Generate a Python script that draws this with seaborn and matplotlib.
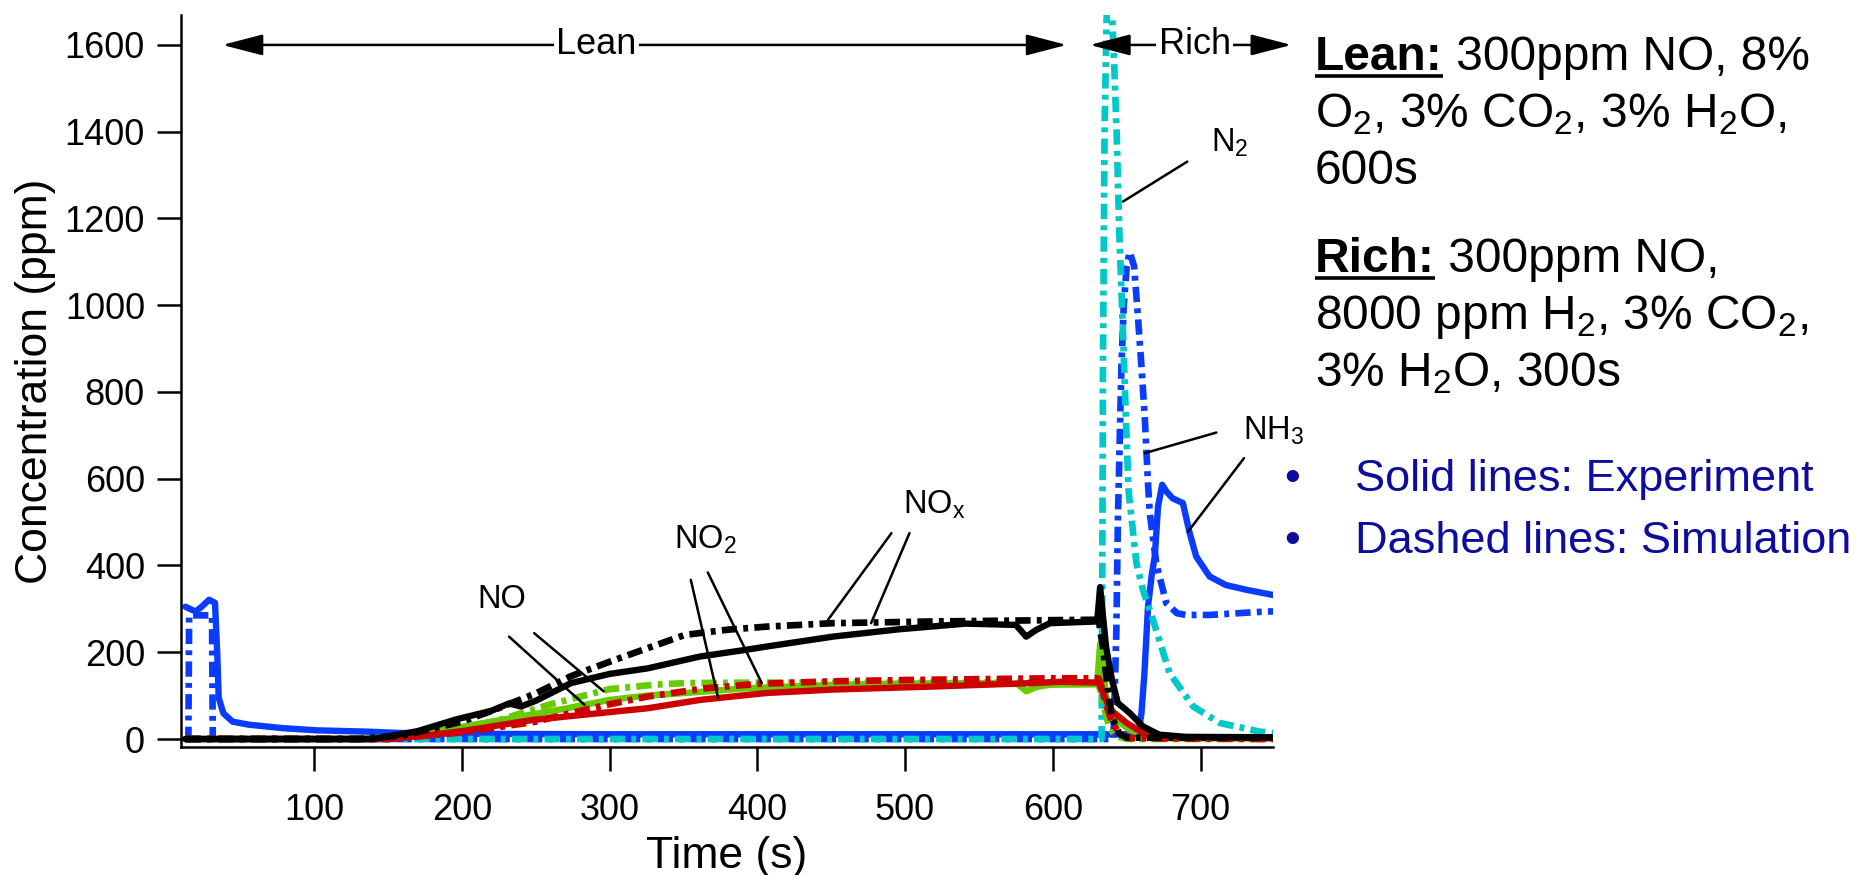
import matplotlib
matplotlib.use("Agg")
import matplotlib.pyplot as plt
from matplotlib.lines import Line2D
import seaborn as sns

# ---------------- data ----------------
t_nh3_exp = [13, 16, 20, 24, 29, 33, 34.5, 35.5, 38.6, 41, 45, 56, 79, 102, 136, 158, 200, 300, 400,
             500, 600, 655, 658, 660, 662, 664.4, 667, 669, 671.2, 674, 677, 681, 688, 692.6, 697,
             706, 717, 731, 749]
nh3_exp = [305, 300, 294, 305, 321, 314, 200, 95, 60, 52, 40, 33, 25, 20, 17, 14, 12, 11, 11,
           11, 11, 11, 15, 60, 152, 305, 380, 421, 536, 586, 570, 555, 544, 475, 421,
           375, 355, 344, 332]

t_nh3_sim = [13, 15, 15.5, 31, 31.5, 641, 643, 644, 646.4, 648, 650, 652, 655, 657.6, 660, 662.2,
             664.4, 665.6, 670, 676.8, 684, 690, 706, 744.5, 749]
nh3_sim = [0, 0, 285, 285, 0, 0, 250, 500, 858, 1000, 1090, 1123, 1090, 974, 858, 743,
           590, 521, 405, 313, 290, 286, 286, 294, 294]

t_n2_sim = [13, 633, 633.5, 634, 635, 636.5, 638.5, 640, 641.6, 643.2, 645, 647.5, 649.8, 651.3,
            656.6, 661, 667.8, 679, 695, 713, 740, 749]
n2_sim = [0, 0, 400, 900, 1400, 1680, 1720, 1680, 1550, 1396, 1166, 935, 705, 570,
          405, 344, 275, 152, 75, 37, 17, 14]

t_no_exp = [13, 130, 160, 200, 240, 270, 300, 325, 351, 393, 451, 500, 564, 576, 582, 589, 598,
            630, 632, 636, 643, 652, 665, 680, 749]
no_exp = [0, 0, 6, 28, 52, 70, 90, 100, 106, 117, 125, 128, 129, 127, 110, 120, 125,
          126, 220, 98, 44, 21, 5, 2, 2]

t_no_sim = [13, 140, 170, 200, 222, 260, 300, 330, 351, 400, 500, 600, 631, 634, 638, 642, 650, 749]
no_sim = [0, 0, 8, 24, 40, 80, 115, 125, 129, 130, 130, 130, 130, 80, 30, 8, 0, 0]

t_no2_exp = [13, 150, 170, 200, 248, 300, 326, 361, 406, 451, 519, 587, 605, 631, 634, 639, 650,
             661, 672, 749]
no2_exp = [0, 0, 6, 18, 44, 62, 71, 90, 106, 114, 121, 129, 132, 130, 106, 67, 37,
           14, 4, 2]

t_no2_sim = [13, 150, 200, 250, 274, 300, 326, 365, 400, 450, 500, 600, 631, 633, 636, 640, 645,
             652, 749]
no2_sim = [0, 0, 15, 40, 60, 80, 98, 117, 127, 133, 136, 140, 140, 120, 80, 40, 12,
           2, 0]

t_nox_exp = [13, 140, 170, 196, 220, 232, 240, 250, 274, 300, 326, 361, 393, 406, 451, 496, 541,
             575, 582, 589, 598, 630, 632, 636, 640, 644, 652, 661, 672, 690, 749]
nox_exp = [0, 0, 18, 45, 65, 82, 75, 88, 129, 150, 163, 190, 206, 213, 236, 253, 266,
           263, 236, 252, 267, 271, 350, 213, 137, 83, 60, 29, 10, 5, 4]

t_nox_sim = [13, 130, 160, 200, 222, 250, 274, 300, 313, 351, 380, 406, 451, 519, 600, 631, 634,
             637, 640, 645, 650, 749]
nox_sim = [0, 0, 8, 40, 67, 105, 145, 178, 194, 240, 252, 259, 267, 271, 274, 275, 210,
           120, 50, 12, 3, 3]

x_ticks = [100, 200, 300, 400, 500, 600, 700]
y_ticks = [0, 200, 400, 600, 800, 1000, 1200, 1400, 1600]

# species labels: text, x, y (baseline-left), leader lines
species_labels = [
    ("NO", 210.4, 301.8, [((232, 236), (283, 79)), ((249, 244), (296, 110))]),
    ("NO$_2$", 343.7, 440, [((355, 367), (373.5, 94.5)), ((366.5, 384), (403, 129))]),
    ("NO$_\\mathregular{x}$", 498.6, 520.7, [((490.8, 474.6), (447.9, 275)), ((503, 474.6), (477, 267))]),
    ("N$_2$", 707.3, 1354, [((691, 1331), (647.5, 1239))]),
    ("NH$_3$", 728.7, 689.6, [((710.7, 706.5), (662.2, 659)), ((729.4, 647.5), (691.5, 478))]),
]

# ---------------- style ----------------
sns.set_theme(style="ticks")
plt.rcParams['font.family'] = ['Liberation Sans', 'DejaVu Sans']
plt.rcParams['mathtext.fontset'] = 'custom'
plt.rcParams['mathtext.rm'] = 'Liberation Sans'
plt.rcParams['mathtext.it'] = 'Liberation Sans:italic'
plt.rcParams['mathtext.bf'] = 'Liberation Sans:bold'
plt.rcParams['lines.scale_dashes'] = False
plt.rcParams['axes.unicode_minus'] = False

W, H = 1860, 875
fig = plt.figure(figsize=(W / 100, H / 100), dpi=100)
fig.patch.set_facecolor('white')
ax = fig.add_axes([181 / W, 1 - 747 / H, (1273 - 181) / W, (747 - 15) / H])
ax.set_facecolor('white')

BLUE = '#0a3cff'
CYAN = '#00c8c8'
GREEN = '#66cc00'
RED = '#cc0000'
BLACK = '#000000'
SOLID = '-'
DASHDOT = (0, (11, 4.5, 3.5, 4.5))

series = [
    (t_nh3_exp, nh3_exp, BLUE, SOLID),
    (t_nh3_sim, nh3_sim, BLUE, DASHDOT),
    (t_n2_sim, n2_sim, CYAN, DASHDOT),
    (t_no_exp, no_exp, GREEN, SOLID),
    (t_no_sim, no_sim, GREEN, DASHDOT),
    (t_no2_exp, no2_exp, RED, SOLID),
    (t_no2_sim, no2_sim, RED, DASHDOT),
    (t_nox_exp, nox_exp, BLACK, SOLID),
    (t_nox_sim, nox_sim, BLACK, DASHDOT),
]
for t, c, col, ls in series:
    lw = 4.6 if ls == SOLID else 4.8
    sns.lineplot(x=t, y=c, ax=ax, color=col, linewidth=lw, linestyle=ls,
                 estimator=None, sort=False, errorbar=None, legend=False,
                 solid_capstyle='round', solid_joinstyle='round')

ax.set_xlim(10, 749)
ax.set_ylim(-18.4, 1669)
ax.set_xticks(x_ticks)
ax.set_yticks(y_ticks)
for s in ['top', 'right']:
    ax.spines[s].set_visible(False)
for s in ['left', 'bottom']:
    ax.spines[s].set_linewidth(1.8)
    ax.spines[s].set_color('black')
ax.tick_params(axis='both', direction='out', length=17, width=1.8, color='black',
               labelsize=26, labelcolor='black')
ax.tick_params(axis='x', pad=16)
ax.tick_params(axis='y', pad=9)
ax.set_xlabel('Time (s)', fontsize=32, labelpad=6, color='black')
ax.set_ylabel('Concentration (ppm)', fontsize=32, labelpad=6, color='black')

# species labels and leader lines
for text, x, y, leaders in species_labels:
    ax.text(x, y, text, fontsize=23.5, ha='left', va='baseline', color='black', zorder=6)
    for (x0, y0), (x1, y1) in leaders:
        ax.annotate('', xy=(x1, y1), xytext=(x0, y0), annotation_clip=False,
                    arrowprops=dict(arrowstyle='-', lw=1.8, color='black',
                                    shrinkA=0, shrinkB=0), zorder=6)

# Lean / Rich phase arrows
phases = [("Lean", 291, 38, 609.4), ("Rich", 696, 625, 761.5)]
for name, xc, xl, xr in phases:
    for tip in (xl, xr):
        ax.annotate('', xy=(tip, 1600), xytext=(xc, 1600), annotation_clip=False,
                    arrowprops=dict(arrowstyle='-|>,head_length=25,head_width=6.5',
                                    mutation_scale=1, lw=1.8, color='black',
                                    shrinkA=0, shrinkB=0), zorder=7)
    ax.text(xc, 1600, name, fontsize=26, ha='center', va='center', color='black', zorder=8,
            clip_on=False, bbox=dict(fc='white', ec='none', pad=1.5))

# ---------------- right-hand text block ----------------
FS = 34.5
x0 = 1315 / W
blocks = [
    ("Lean:", [" 300ppm NO, 8%", "O$_2$, 3% CO$_2$, 3% H$_2$O,", "600s"], [70, 127, 184]),
    ("Rich:", [" 300ppm NO,", "8000 ppm H$_2$, 3% CO$_2$,", "3% H$_2$O, 300s"], [272, 329, 386]),
]
heads = []
for head, lines, bases in blocks:
    th = fig.text(x0, 1 - bases[0] / H, head, fontsize=FS, fontweight='bold',
                  ha='left', va='baseline', color='black')
    heads.append((th, lines, bases))
fig.canvas.draw()
renderer = fig.canvas.get_renderer()
for th, lines, bases in heads:
    bb = th.get_window_extent(renderer)
    fig.text(bb.x1 / W, 1 - bases[0] / H, lines[0], fontsize=FS, ha='left',
             va='baseline', color='black')
    for ln, b in zip(lines[1:], bases[1:]):
        fig.text(x0, 1 - b / H, ln, fontsize=FS, ha='left', va='baseline', color='black')
    yu = 1 - (bases[0] + 6) / H
    fig.add_artist(Line2D([bb.x0 / W, bb.x1 / W], [yu, yu], lw=2.6, color='black',
                          solid_capstyle='butt'))

NAVY = '#0c0c9e'
notes = [("Solid lines: Experiment", 491), ("Dashed lines: Simulation", 553)]
for txt, b in notes:
    fig.text(1292 / W, 1 - b / H, "\u2022", fontsize=32.5, ha='center', va='baseline', color=NAVY)
    fig.text(1354.5 / W, 1 - b / H, txt, fontsize=32.5, ha='left', va='baseline', color=NAVY)

fig.savefig('out.png', dpi=100, facecolor='white')
